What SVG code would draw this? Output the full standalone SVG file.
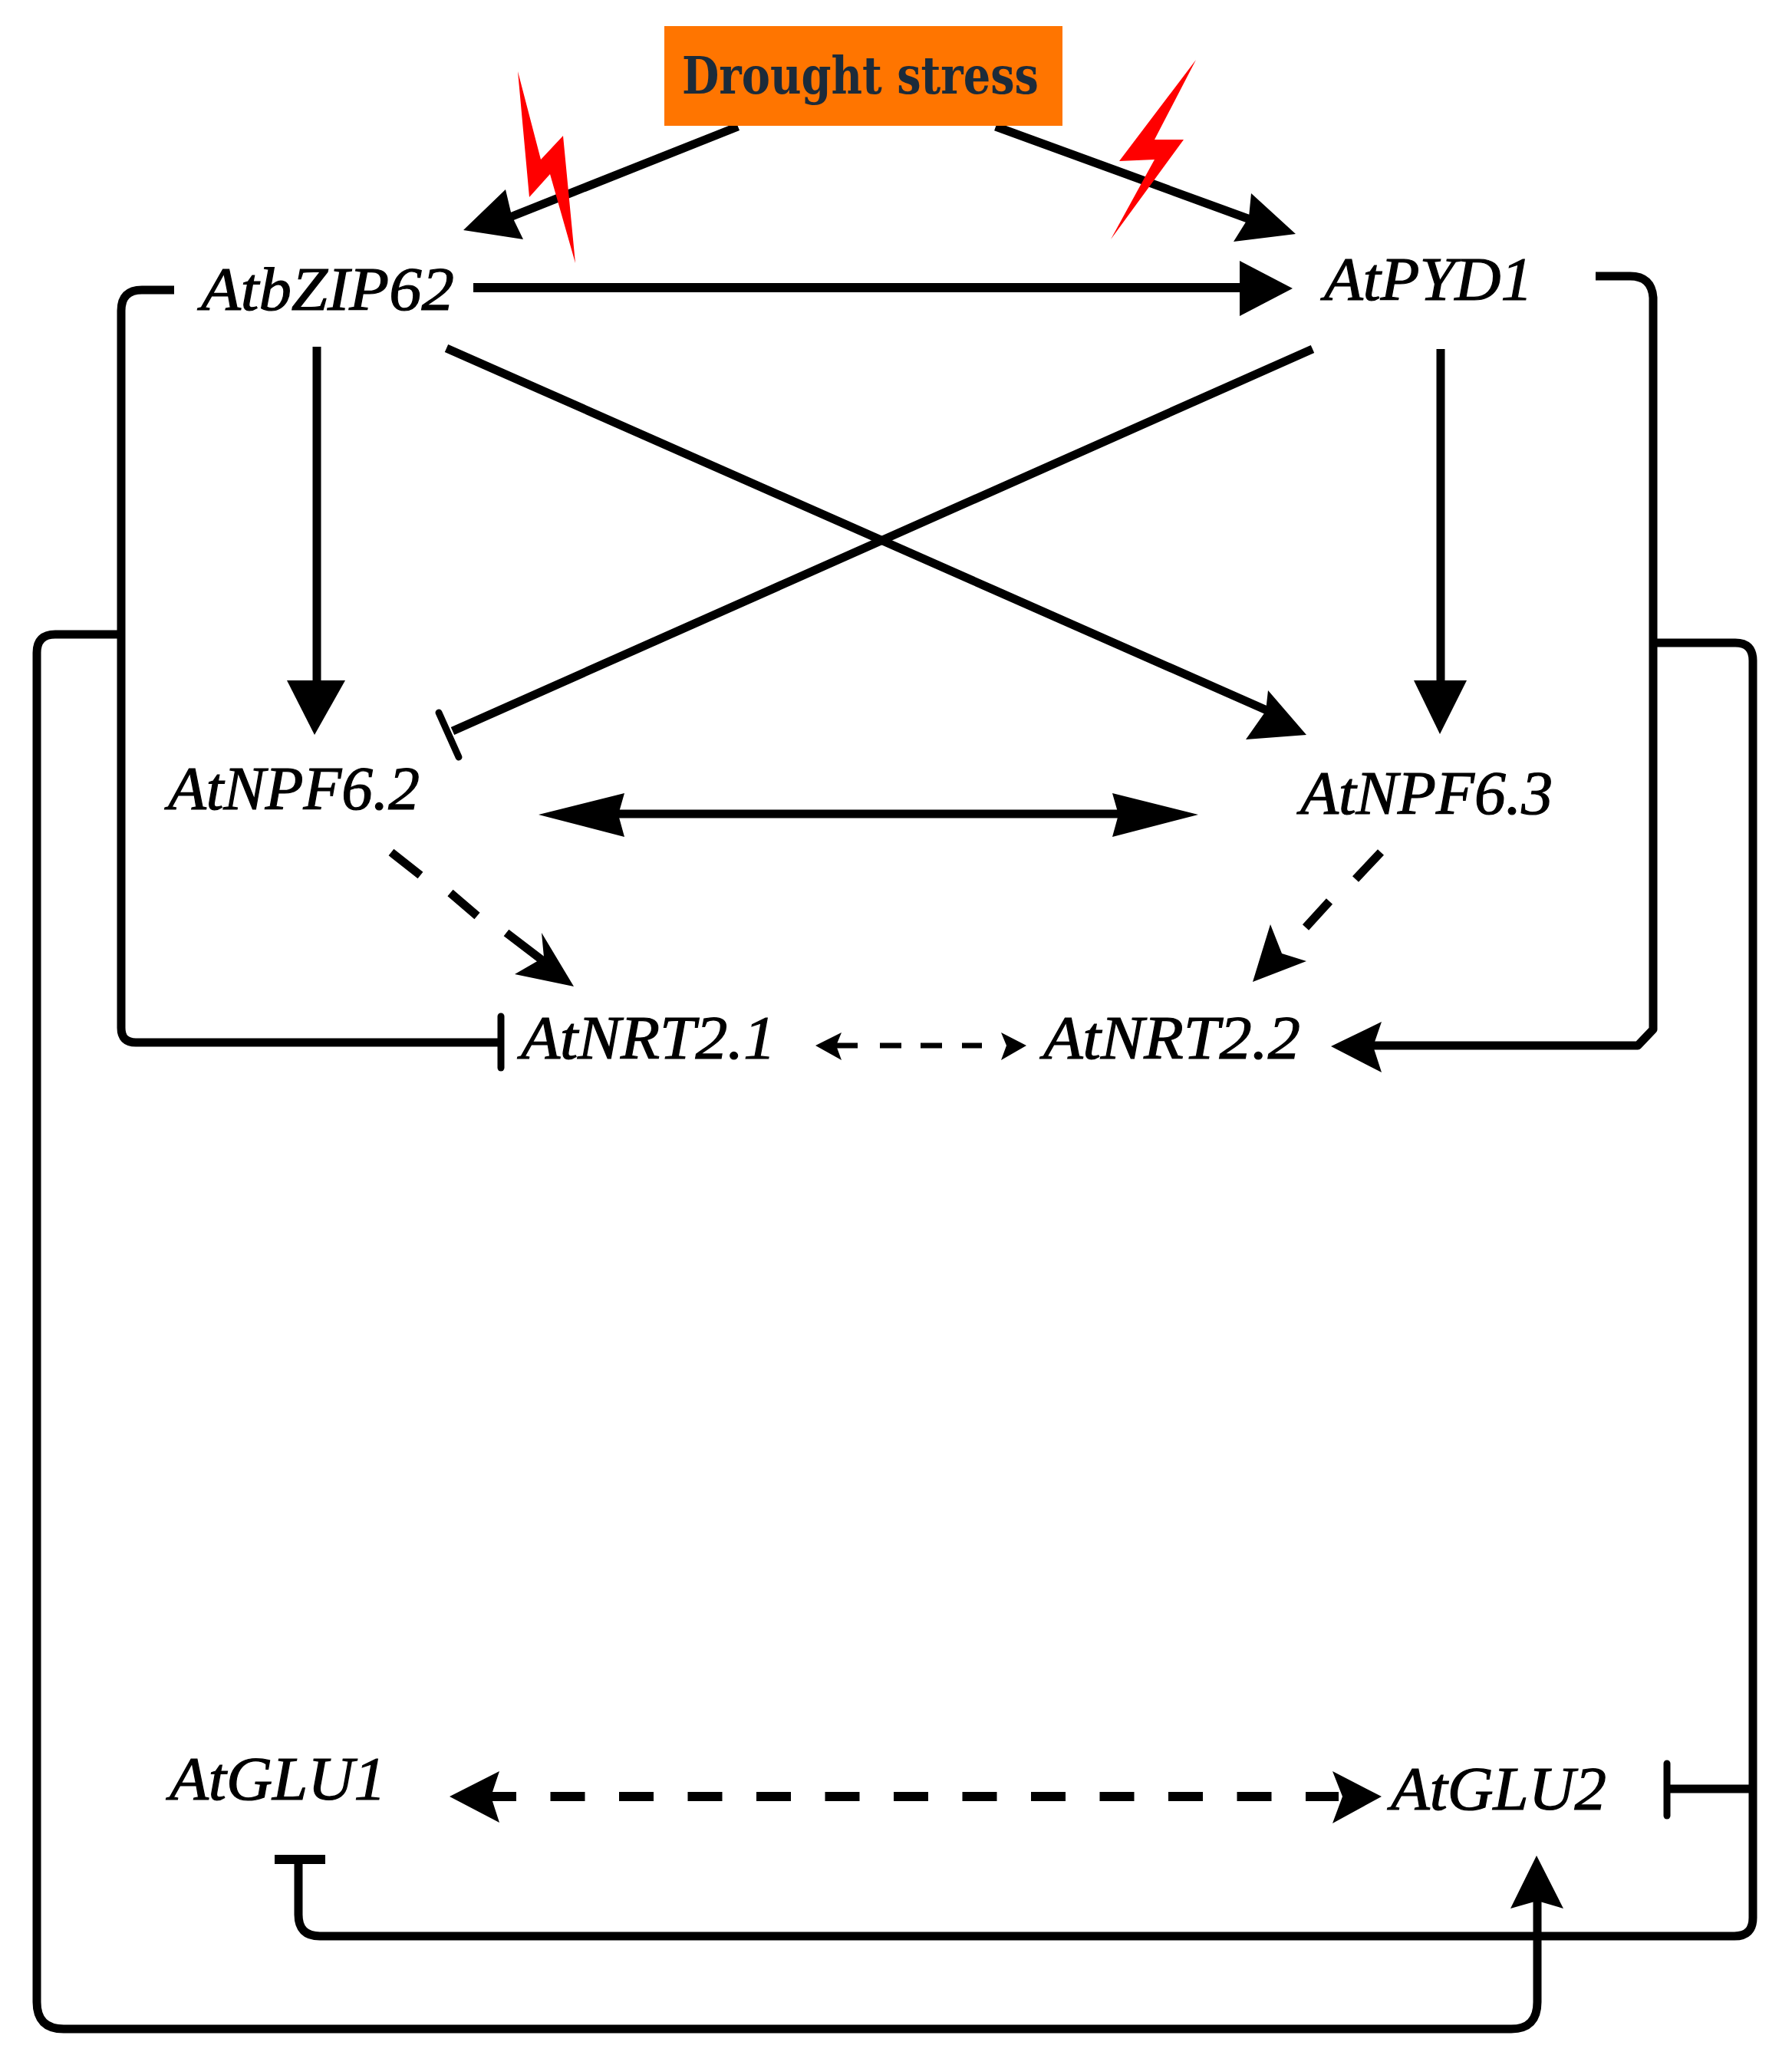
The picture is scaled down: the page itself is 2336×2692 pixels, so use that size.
<svg xmlns="http://www.w3.org/2000/svg" width="2336" height="2692" viewBox="0 0 2336 2692">
<style>
.l{fill:none;stroke:#000;stroke-width:11;stroke-linejoin:round}
.t{stroke-width:9;stroke-linecap:round}
.h{fill:#000;stroke:none}
.bolt{fill:#ff0000;stroke:none}
.gene{font-family:"Liberation Serif","Times New Roman",serif;font-style:italic;font-size:80px;fill:#000;stroke:#000;stroke-width:1.2}
.title{font-family:"DejaVu Serif Condensed","DejaVu Serif",serif;font-weight:bold;font-size:68px;fill:#1c2b3a}
</style>
<rect width="2336" height="2692" fill="#fff"/>
<g id="connectors">
<path class="l" d="M962,165L660,285"/>
<polygon class="h" points="604,300 659,247 667,281 682,312"/>
<path class="l" d="M1298,165L1635,288"/>
<polygon class="h" points="1689,305 1631,252 1628,283 1608,315"/>
<path class="l" style="stroke-width:12" d="M617,375H1620"/>
<polygon class="h" points="1685,376 1616,340 1616,412"/>
<path class="l" d="M413,452V900"/>
<polygon class="h" points="410,958 374,887 450,887"/>
<path class="l" d="M1878,455V900"/>
<polygon class="h" points="1877,957 1843,887 1912,887"/>
<path class="l" d="M582,454L1665,932"/>
<polygon class="h" points="1703,958 1653,900 1650,927 1624,964"/>
<path class="l" d="M1711,455L590,953"/>
<path class="l t" d="M572,929L598,987"/>
<path class="l" d="M800,1061H1461"/>
<polygon class="h" points="702,1062 814,1034 806,1062 814,1091"/>
<polygon class="h" points="1562,1062 1450,1034 1458,1062 1450,1091"/>
<path class="l" d="M510,1111L548,1141M587,1164L622,1194M660,1216L715,1258"/>
<polygon class="h" points="748,1286 706,1216 709,1248 671,1270"/>
<path class="l" d="M1800,1111L1767,1146M1733,1175L1702,1209"/>
<polygon class="h" points="1633,1280 1656,1205 1671,1243 1703,1253"/>
<path class="l" style="stroke-width:7" d="M1090,1363H1118M1147,1363H1175M1200,1363H1228M1254,1363H1280"/>
<polygon class="h" points="1063,1363 1097,1346 1090,1363 1097,1382"/>
<polygon class="h" points="1338,1363 1305,1346 1312,1363 1305,1382"/>
<path class="l" d="M227,378H185Q158,378 158,405V1340Q158,1359 177,1359H653"/>
<path class="l t" d="M653,1325V1392"/>
<path class="l" d="M155,827H72Q48,827 48,851V2610Q48,2645 83,2645H1970Q2004,2645 2004,2610V2470"/>
<polygon class="h" points="2003,2419 1969,2488 2004,2478 2038,2488"/>
<path class="l" d="M2080,360H2125Q2153,360 2155,388V1342L2135,1363H1790"/>
<polygon class="h" points="1735,1364 1801,1332 1790,1364 1801,1398"/>
<path class="l" d="M2155,838H2262Q2285,838 2285,861V2500Q2285,2524 2261,2524H417Q389,2524 389,2496V2424"/>
<path class="l" style="stroke-width:12" d="M358,2424H424"/>
<path class="l" d="M2173,2332H2285"/>
<path class="l t" d="M2173,2299V2367"/>
<path class="l" style="stroke-width:12;stroke-dasharray:45 44.5" d="M628,2342H1745"/>
<polygon class="h" points="586,2342 651,2309 640,2342 651,2376"/>
<polygon class="h" points="1801,2342 1737,2309 1750,2342 1737,2377"/>
</g>
<g id="drought-stress"><rect x="866" y="34" width="519" height="130" fill="#ff7500"/><text class="title" x="889" y="122" textLength="465" lengthAdjust="spacingAndGlyphs">Drought stress</text></g>
<g id="bolt-left"><polygon class="bolt" points="675,93 705,208 734,177 750,343 717,227 690,257"/></g>
<g id="bolt-right"><polygon class="bolt" points="1559,78 1505,182 1543,182 1448,312 1505,208 1459,210"/></g>
<g id="AtbZIP62"><text class="gene" x="262" y="404" textLength="330" lengthAdjust="spacingAndGlyphs">AtbZIP62</text></g>
<g id="AtPYD1"><text class="gene" x="1726" y="391" textLength="272" lengthAdjust="spacingAndGlyphs">AtPYD1</text></g>
<g id="AtNPF6.2"><text class="gene" x="219" y="1055" textLength="328" lengthAdjust="spacingAndGlyphs">AtNPF6.2</text></g>
<g id="AtNPF6.3"><text class="gene" x="1695" y="1061" textLength="329" lengthAdjust="spacingAndGlyphs">AtNPF6.3</text></g>
<g id="AtNRT2.1"><text class="gene" x="679" y="1380" textLength="332" lengthAdjust="spacingAndGlyphs">AtNRT2.1</text></g>
<g id="AtNRT2.2"><text class="gene" x="1360" y="1380" textLength="335" lengthAdjust="spacingAndGlyphs">AtNRT2.2</text></g>
<g id="AtGLU1"><text class="gene" x="221" y="2346" textLength="282" lengthAdjust="spacingAndGlyphs">AtGLU1</text></g>
<g id="AtGLU2"><text class="gene" x="1813" y="2359" textLength="281" lengthAdjust="spacingAndGlyphs">AtGLU2</text></g>
</svg>
